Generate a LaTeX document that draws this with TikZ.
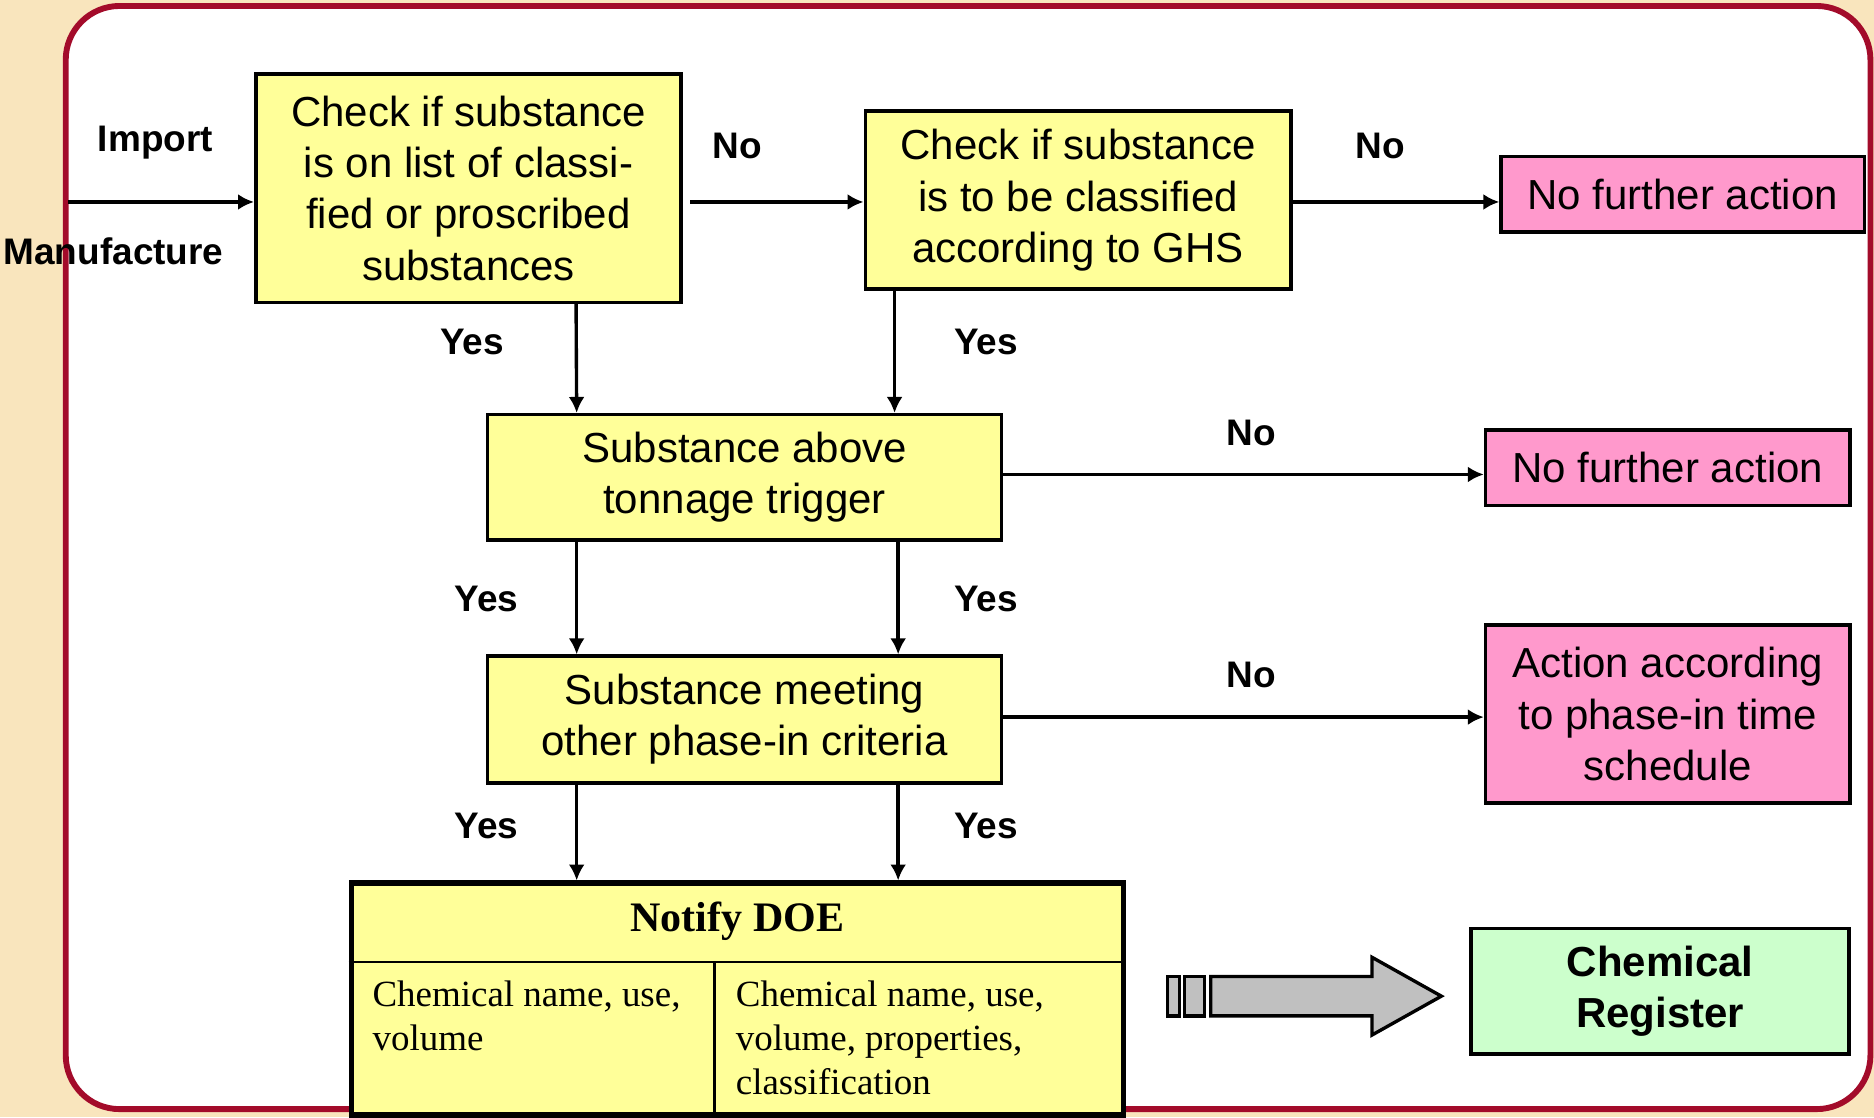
\documentclass[tikz,border=0pt]{standalone}
\usepackage{fontspec}
\setmainfont{Liberation Sans}
\newfontfamily\serifface{Liberation Serif}
\usetikzlibrary{arrows.meta}

\definecolor{pagebeige}{HTML}{F9E5BD}
\definecolor{frameRed}{HTML}{A30B2A}
\definecolor{boxyellow}{HTML}{FFFF99}
\definecolor{boxpink}{HTML}{FF99CC}
\definecolor{boxgreen}{HTML}{CCFFCC}
\definecolor{arrowgray}{HTML}{C0C0C0}

\begin{document}
\begin{tikzpicture}[
    box/.style={draw, line width=0.85pt, align=center, inner sep=0pt,
      font=\fontsize{10}{12.2}\selectfont},
    checkbox/.style={box, fill=boxyellow},
    endbox/.style={box, fill=boxpink},
    answer/.style={font=\bfseries\fontsize{8.8}{10}\selectfont},
    cell/.style={anchor=north west, align=left, inner sep=0pt,
      font=\serifface\fontsize{8.8}{10.5}\selectfont},
    arr/.style={line width=0.8pt, -{Latex[length=3.8pt,width=3.8pt]}}
  ]
  \useasboundingbox (0,0) rectangle (15.68,9.35);

  % Background and the rounded frame
  \fill[pagebeige] (0,0) rectangle (15.68,9.35);
  \draw[frameRed, line width=1.4pt, fill=white, rounded corners=0.45cm]
    (0.55,0.07) rectangle (15.65,9.30);

  % Decision boxes
  \node[checkbox, minimum width=3.56cm, minimum height=1.91cm] (check1) at (3.92,7.775)
    {Check if substance\\is on list of classi-\\fied or proscribed\\substances};
  \node[checkbox, minimum width=3.56cm, minimum height=1.49cm] (check2) at (9.02,7.675)
    {Check if substance\\is to be classified\\according to GHS};
  \node[checkbox, minimum width=4.30cm, minimum height=1.05cm] (tonnage) at (6.23,5.355)
    {Substance above\\tonnage trigger};
  \node[checkbox, minimum width=4.30cm, minimum height=1.06cm] (phasein) at (6.23,3.33)
    {Substance meeting\\other phase-in criteria};

  % Outcome boxes
  \node[endbox, minimum width=3.04cm, minimum height=0.63cm] (nofurther1) at (14.08,7.725)
    {No further action};
  \node[endbox, minimum width=3.05cm, minimum height=0.63cm] (nofurther2) at (13.955,5.435)
    {No further action};
  \node[endbox, minimum width=3.05cm, minimum height=1.49cm] (schedule) at (13.955,3.375)
    {Action according\\to phase-in time\\schedule};
  \node[box, fill=boxgreen, font=\bfseries\fontsize{10}{12.2}\selectfont,
    minimum width=3.16cm, minimum height=1.05cm] (register) at (13.89,1.055)
    {Chemical\\Register};

  % Notify DOE table
  \node[draw, line width=1.3pt, fill=boxyellow, minimum width=6.46cm,
    minimum height=1.94cm, inner sep=0pt] (doe) at (6.17,0.99) {};
  \draw[line width=0.6pt] (doe.west |- 0,1.30) -- (doe.east |- 0,1.30);
  \draw[line width=0.6pt] (5.98,1.30) -- (5.98,0 |- doe.south);
  \node[font=\serifface\bfseries\fontsize{10}{12}\selectfont] (doetitle) at (6.17,1.64) {Notify DOE};
  \node[cell] (cellleft) at (3.11,1.15) {Chemical name, use,\\volume};
  \node[cell] (cellright) at (6.15,1.15) {Chemical name, use,\\volume, properties,\\classification};

  % Block arrow to the register
  \draw[line width=0.8pt, fill=arrowgray] (9.77,0.85) rectangle (9.87,1.18);
  \draw[line width=0.8pt, fill=arrowgray] (9.91,0.85) rectangle (10.08,1.18);
  \draw[line width=0.8pt, fill=arrowgray] (10.13,0.85) -- (10.13,1.18) -- (11.48,1.18)
    -- (11.48,1.34) -- (12.06,1.015) -- (11.48,0.69) -- (11.48,0.85) -- cycle;

  % Entry arrow
  \coordinate (entry) at (0.57,7.66);
  \draw[arr] (entry) -- (entry -| check1.west);
  \node[answer] (import) at (1.30,8.16) {Import};
  \node[answer] (manufacture) at (0.95,7.25) {Manufacture};

  % No branches
  \draw[arr, shorten <=0.06cm] (check1.east |- 0,7.66) -- (check2.west |- 0,7.66);
  \draw[arr] (check2.east |- 0,7.66) -- (nofurther1.west |- 0,7.66);
  \draw[arr] (tonnage.east |- 0,5.38) -- (nofurther2.west |- 0,5.38);
  \draw[arr] (phasein.east |- 0,3.35) -- (schedule.west |- 0,3.35);
  \node[answer] (no1) at (6.17,8.13) {No};
  \node[answer] (no2) at (11.55,8.13) {No};
  \node[answer] (no3) at (10.47,5.73) {No};
  \node[answer] (no4) at (10.47,3.70) {No};

  % Yes branches
  \draw[arr] ([xshift=0.90cm]check1.south) -- ([xshift=0.76cm]tonnage.north west);
  \draw[arr] ([xshift=0.26cm]check2.south west) -- ([xshift=0.26cm]check2.south west |- tonnage.north);
  \draw[arr] ([xshift=0.76cm]tonnage.south west) -- ([xshift=0.76cm]tonnage.south west |- phasein.north);
  \draw[arr] ([xshift=-0.88cm]tonnage.south east) -- ([xshift=-0.88cm]tonnage.south east |- phasein.north);
  \draw[arr] ([xshift=0.76cm]phasein.south west) -- ([xshift=0.76cm]phasein.south west |- doe.north);
  \draw[arr] ([xshift=-0.88cm]phasein.south east) -- ([xshift=-0.88cm]phasein.south east |- doe.north);
  \node[answer] (yes1) at (3.95,6.49) {Yes};
  \node[answer] (yes2) at (8.25,6.49) {Yes};
  \node[answer] (yes3) at (4.07,4.34) {Yes};
  \node[answer] (yes4) at (8.25,4.34) {Yes};
  \node[answer] (yes5) at (4.07,2.44) {Yes};
  \node[answer] (yes6) at (8.25,2.44) {Yes};

\end{tikzpicture}
\end{document}
